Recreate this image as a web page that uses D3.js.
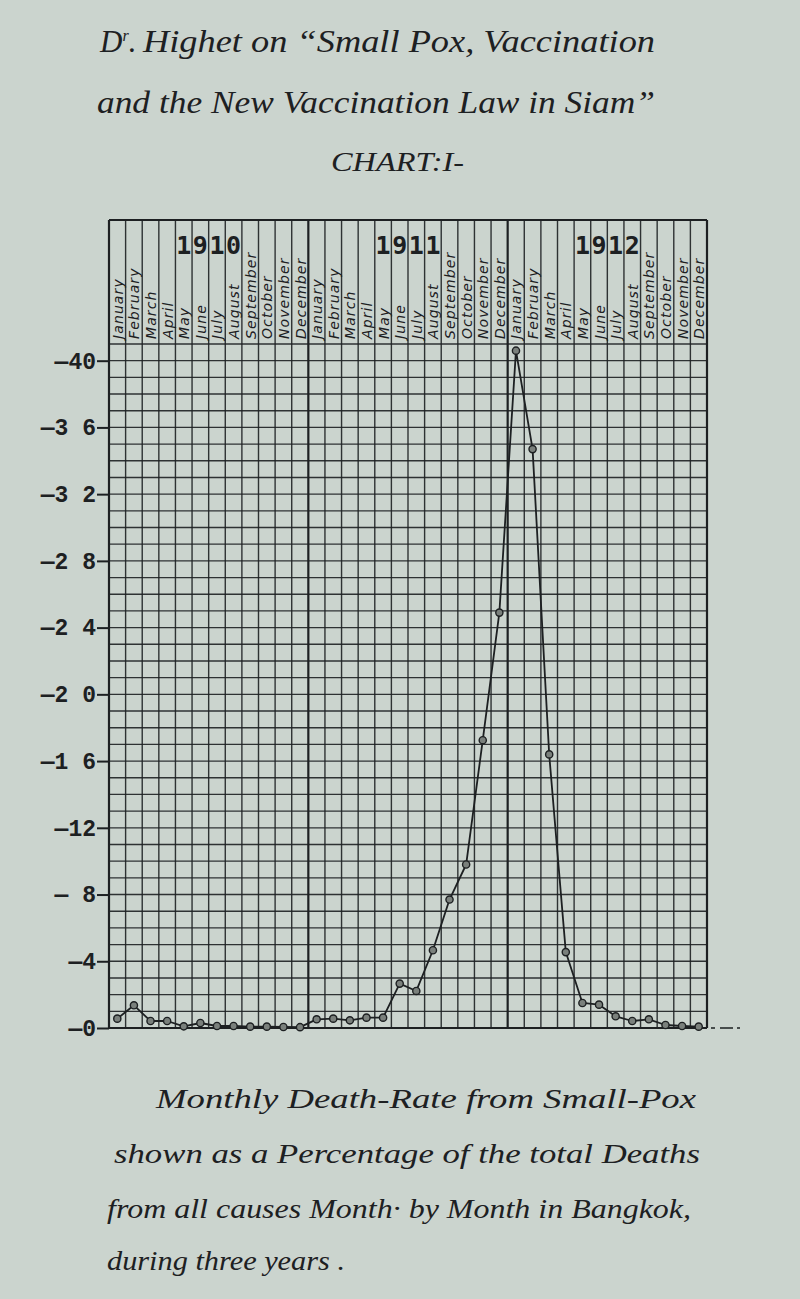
<!DOCTYPE html>
<html>
<head>
<meta charset="utf-8">
<script src="https://cdn.jsdelivr.net/npm/d3@7"></script>
<style>
  html, body { margin: 0; padding: 0; background: #cbd4ce; }
  svg { display: block; }
</style>
</head>
<body>
<svg id="chart" width="800" height="1299"></svg>
<script>
// ---- Data ----
const months = ["January","February","March","April","May","June","July","August","September","October","November","December"];
const years = ["1910","1911","1912"];
const rate1910 = [0.56, 1.36, 0.42, 0.42, 0.1, 0.3, 0.12, 0.12, 0.08, 0.08, 0.06, 0.05];
const rate1911 = [0.52, 0.56, 0.46, 0.62, 0.62, 2.66, 2.22, 4.66, 7.7, 9.8, 17.25, 24.9];
const rate1912 = [40.6, 34.7, 16.4, 4.55, 1.5, 1.4, 0.7, 0.42, 0.52, 0.18, 0.12, 0.08];
const yTickValues = [0, 4, 8, 12, 16, 20, 24, 28, 32, 36, 40];
const yTickLabels = ["\u20140", "\u20144", "\u2014 8", "\u201412", "\u20141 6", "\u20142 0", "\u20142 4", "\u20142 8", "\u20143 2", "\u20143 6", "\u201440"];
const titleLines = ["Highet on \u201cSmall Pox, Vaccination", "and the New Vaccination Law in Siam\u201d", "CHART:I-"];
const captionLines = ["Monthly  Death-Rate from  Small-Pox", "shown as a Percentage  of the total Deaths", "from all causes  Month\u00b7 by Month in  Bangkok,", "during three years ."];

(function () {
const series = [rate1910, rate1911, rate1912];
const data = years.flatMap((yr, yi) => months.map((m, mi) => ({ key: yr + "-" + m, year: yr, month: m, mi, value: series[yi][mi] })));

// ---- Layout ----
const svg = d3.select("#chart");
const gLeft = 109, gRight = 707, gBottom = 1028, headerBottom = 344, gTop = 220;
const x = d3.scaleBand().domain(data.map(d => d.key)).range([gLeft, gRight]);
const y = d3.scaleLinear().domain([0, 41]).range([gBottom, headerBottom]);
const ink = "#1d2022";

// ---- Title ----
const titleFont = "'Liberation Serif', serif";
const t0 = svg.append("text").attr("x", 100).attr("y", 52)
  .attr("font-family", titleFont).attr("font-style", "italic").attr("font-size", 31)
  .attr("fill", ink);
t0.append("tspan").text("D");
t0.append("tspan").attr("font-size", 16).attr("dy", -11).text("r");
t0.append("tspan").attr("dy", 11).text(".");

svg.append("text").attr("x", 143).attr("y", 52)
  .attr("font-family", titleFont).attr("font-style", "italic").attr("font-size", 31)
  .attr("fill", ink).attr("textLength", 512).attr("lengthAdjust", "spacingAndGlyphs")
  .text(titleLines[0]);

svg.append("text").attr("x", 97).attr("y", 113)
  .attr("font-family", titleFont).attr("font-style", "italic").attr("font-size", 31)
  .attr("fill", ink).attr("textLength", 558).attr("lengthAdjust", "spacingAndGlyphs")
  .text(titleLines[1]);

svg.append("text").attr("x", 331).attr("y", 171)
  .attr("font-family", titleFont).attr("font-style", "italic").attr("font-size", 27)
  .attr("fill", ink).attr("textLength", 133).attr("lengthAdjust", "spacingAndGlyphs")
  .text(titleLines[2]);

// ---- Grid ----
const grid = svg.append("g").attr("stroke", ink).attr("fill", "none");
grid.selectAll("line.h").data(d3.range(0, 42)).join("line")
  .attr("class", "h")
  .attr("x1", gLeft).attr("x2", gRight)
  .attr("y1", d => y(d)).attr("y2", d => y(d))
  .attr("stroke-width", d => d === 0 ? 1.9 : 1.35)
  .attr("stroke-opacity", d => d === 0 ? 1 : 0.9);
grid.append("line").attr("x1", gLeft).attr("x2", gRight).attr("y1", gTop).attr("y2", gTop).attr("stroke-width", 1.9);
const vEdges = data.map(d => x(d.key)).concat([gRight]);
const heavy = i => (i === 0 || i === 12 || i === 24 || i === 36);
grid.selectAll("line.v").data(vEdges).join("line")
  .attr("class", "v")
  .attr("x1", d => d).attr("x2", d => d)
  .attr("y1", gTop).attr("y2", gBottom)
  .attr("stroke-width", (d, i) => heavy(i) ? 2.2 : 1.4)
  .attr("stroke-opacity", (d, i) => heavy(i) ? 1 : 0.9);
svg.append("line").attr("x1", gRight + 4).attr("x2", gRight + 36)
  .attr("y1", y(0)).attr("y2", y(0))
  .attr("stroke", ink).attr("stroke-width", 1.3).attr("stroke-dasharray", "4,5,13,4,3");

// ---- Month labels (header) ----
svg.append("g").selectAll("text").data(data).join("text")
  .attr("transform", d => `translate(${x(d.key) + x.bandwidth() / 2 + 5.5},${headerBottom - 5}) rotate(-90)`)
  .attr("font-family", "'DejaVu Sans', sans-serif").attr("font-style", "italic")
  .attr("font-size", 14).attr("letter-spacing", 1.1)
  .attr("fill", ink)
  .text(d => d.month);

// ---- Year digits ----
const yearDigits = years.flatMap(yr => yr.split("").map((ch, i) => ({ ch, key: yr + "-" + months[4 + i] })));
svg.append("g").selectAll("text").data(yearDigits).join("text")
  .attr("x", d => x(d.key) + x.bandwidth() / 2)
  .attr("y", 254)
  .attr("text-anchor", "middle")
  .attr("font-family", "'DejaVu Sans Mono', monospace").attr("font-weight", "bold")
  .attr("font-size", 25).attr("fill", ink)
  .text(d => d.ch);

// ---- Y axis ----
const yAxis = d3.axisLeft(y).tickValues(yTickValues)
  .tickFormat((d, i) => yTickLabels[i]).tickSize(12).tickPadding(1);
const ga = svg.append("g").attr("transform", `translate(${gLeft},0)`).call(yAxis);
ga.select(".domain").remove();
ga.selectAll(".tick line").attr("stroke", ink).attr("stroke-width", 2);
ga.selectAll(".tick text")
  .attr("font-family", "'Liberation Mono', monospace").attr("font-weight", "bold")
  .attr("font-size", 23).attr("fill", ink);

// ---- Line & markers ----
const line = d3.line().x(d => x(d.key) + x.bandwidth() / 2).y(d => y(d.value));
svg.append("path").datum(data).attr("d", line)
  .attr("fill", "none").attr("stroke", ink).attr("stroke-width", 1.8).attr("stroke-linejoin", "round");
svg.append("g").selectAll("circle").data(data).join("circle")
  .attr("cx", d => x(d.key) + x.bandwidth() / 2)
  .attr("cy", d => y(d.value))
  .attr("r", 3.6)
  .attr("fill", "#7a807c").attr("stroke", ink).attr("stroke-width", 1.4);

// ---- Caption ----
const capX = [156, 114, 107, 107];
const capY = [1108, 1163, 1218, 1270];
const capW = [540, 586, 584, 238];
svg.append("g").selectAll("text").data(captionLines).join("text")
  .attr("x", (d, i) => capX[i]).attr("y", (d, i) => capY[i])
  .attr("font-family", titleFont).attr("font-style", "italic").attr("font-size", 28)
  .attr("fill", ink)
  .attr("textLength", (d, i) => capW[i]).attr("lengthAdjust", "spacingAndGlyphs")
  .text(d => d);
})();
</script>
</body>
</html>
